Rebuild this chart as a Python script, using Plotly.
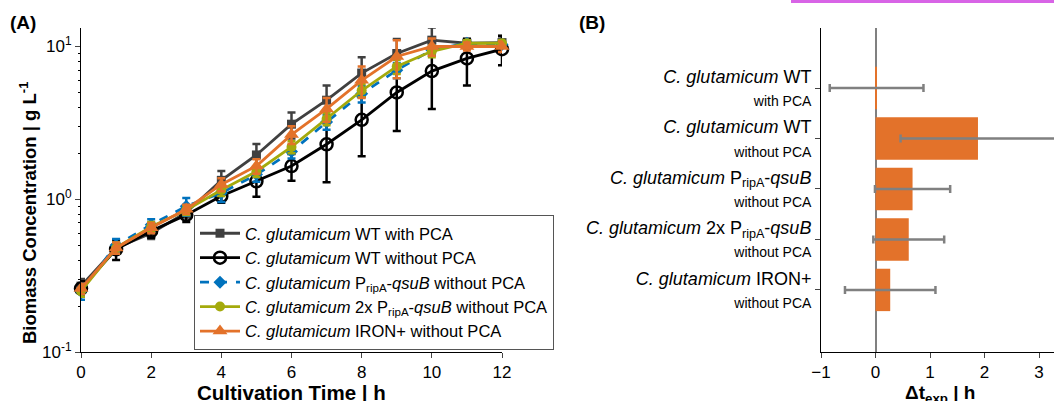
import plotly.graph_objects as go

# ---------------- data (panel A) ----------------
time_h = [0, 1, 2, 3, 4, 5, 6, 7, 8, 9, 10, 11, 12]

wt_pca = [0.27, 0.48, 0.60, 0.82, 1.33, 1.95, 3.1, 4.45, 6.7, 9.0, 11.0, 10.5, 10.6]
wt_pca_err = [0.03, 0.04, 0.05, 0.06, 0.2, 0.35, 0.6, 1.1, 1.8, 2.2, 2.3, 0.8, 1.2]

wt_nopca = [0.26, 0.47, 0.62, 0.79, 1.05, 1.31, 1.65, 2.29, 3.31, 5.0, 6.9, 8.35, 9.6]
wt_nopca_err = [0.03, 0.07, 0.06, 0.08, 0.1, 0.27, 0.33, 1.0, 1.4, 2.2, 3.0, 2.8, 2.05]

qsub = [0.25, 0.50, 0.68, 0.90, 1.10, 1.45, 2.05, 3.2, 4.9, 7.0, 9.5, 10.5, 10.3]
qsub_err = [0.03, 0.05, 0.06, 0.12, 0.14, 0.15, 0.2, 0.35, 0.6, 0.8, 0.6, 0.4, 0.4]

qsub2x = [0.25, 0.48, 0.66, 0.85, 1.15, 1.52, 2.2, 3.35, 5.15, 7.4, 9.3, 10.5, 10.5]
qsub2x_err = [0.02, 0.04, 0.05, 0.06, 0.1, 0.12, 0.2, 0.3, 0.5, 0.8, 0.8, 0.5, 0.5]

iron = [0.26, 0.48, 0.65, 0.86, 1.25, 1.65, 2.65, 3.9, 6.0, 8.6, 10.0, 10.0, 10.0]
iron_err = [0.02, 0.04, 0.05, 0.06, 0.12, 0.18, 0.35, 0.7, 1.4, 2.4, 1.3, 0.6, 0.8]

series_names = [
    "<i>C. glutamicum</i> WT with PCA",
    "<i>C. glutamicum</i> WT without PCA",
    "<i>C. glutamicum</i> P<sub>ripA</sub>-<i>qsuB</i> without PCA",
    "<i>C. glutamicum</i> 2x P<sub>ripA</sub>-<i>qsuB</i> without PCA",
    "<i>C. glutamicum</i> IRON+ without PCA",
]

# ---------------- data (panel B) ----------------
strain_labels = [
    "<i>C. glutamicum</i> WT<br><span style='font-size:14px'>with PCA</span>",
    "<i>C. glutamicum</i> WT<br><span style='font-size:14px'>without PCA</span>",
    "<i>C. glutamicum</i> P<sub>ripA</sub>-<i>qsuB</i><br><span style='font-size:14px'>without PCA</span>",
    "<i>C. glutamicum</i> 2x P<sub>ripA</sub>-<i>qsuB</i><br><span style='font-size:14px'>without PCA</span>",
    "<i>C. glutamicum</i> IRON+<br><span style='font-size:14px'>without PCA</span>",
]
delta_t = [0.02, 1.88, 0.68, 0.61, 0.27]
delta_t_err = [0.86, 1.42, 0.69, 0.65, 0.83]

FONT = "Arial, 'Liberation Sans', sans-serif"
W, H = 1054, 401

fig = go.Figure()

styles = [
    dict(color="#404040", dash="solid", symbol="square", size=9, open=False),
    dict(color="#000000", dash="solid", symbol="circle-open", size=12, open=True),
    dict(color="#0072BD", dash="dash", symbol="diamond", size=10, open=False),
    dict(color="#A4AA0C", dash="solid", symbol="circle", size=10, open=False),
    dict(color="#E3722A", dash="solid", symbol="triangle-up", size=13, open=False),
]
series = [(wt_pca, wt_pca_err), (wt_nopca, wt_nopca_err), (qsub, qsub_err),
          (qsub2x, qsub2x_err), (iron, iron_err)]

for (vals, errs), name, st in zip(series, series_names, styles):
    fig.add_trace(go.Scatter(
        x=time_h, y=vals, name=name, mode="lines+markers",
        line=dict(color=st["color"], width=2.8, dash=st["dash"]),
        marker=dict(symbol=st["symbol"], size=st["size"], color=st["color"],
                    line=dict(color=st["color"], width=2.5 if st["open"] else 0)),
        error_y=dict(type="data", array=errs, visible=True, color=st["color"],
                     thickness=2.5, width=4),
        cliponaxis=False, xaxis="x", yaxis="y",
    ))

fig.add_trace(go.Bar(
    x=delta_t, y=list(range(len(strain_labels))), orientation="h",
    marker=dict(color="#E3722A", line=dict(width=0)), width=0.84,
    error_x=dict(type="data", array=delta_t_err, visible=True, color="#808080",
                 thickness=2.5, width=4),
    showlegend=False, xaxis="x2", yaxis="y2",
))

x1d = [81 / W, 502 / W]
x2d = [821 / W, 1.0]
yd = [1 - 352 / H, 1 - 28 / H]

minor_vals = [v * s for s in (0.1, 1) for v in range(2, 10)]

fig.update_layout(
    width=W, height=H, margin=dict(l=0, r=0, t=0, b=0),
    paper_bgcolor="white", plot_bgcolor="white",
    font=dict(family=FONT, color="black", size=16),
    showlegend=True,
    legend=dict(x=194 / W, y=1 - 215 / H, xanchor="left", yanchor="top",
                bgcolor="white", bordercolor="#555555", borderwidth=1,
                font=dict(size=16.5, family=FONT), itemwidth=40,
                tracegroupgap=0),
    xaxis=dict(domain=x1d, range=[0, 12], tickvals=[0, 2, 4, 6, 8, 10, 12],
               ticks="outside", ticklen=5, showline=True, linecolor="black",
               linewidth=1, showgrid=False, zeroline=False, anchor="y",
               tickfont=dict(size=17), automargin=False),
    yaxis=dict(domain=yd, type="log", range=[-1, 1.121], tickvals=[0.1, 1, 10],
               ticktext=["10<sup>-1</sup>", "10<sup>0</sup>", "10<sup>1</sup>"],
               ticks="outside", ticklen=5, showline=True, linecolor="black",
               linewidth=1, showgrid=False, zeroline=False, anchor="x",
               tickfont=dict(size=17), automargin=False,
               minor=dict(tickmode="array", tickvals=minor_vals, ticks="outside",
                          ticklen=2, tickcolor="black", showgrid=False)),
    xaxis2=dict(domain=x2d, range=[-1, 3.275], tickvals=[-1, 0, 1, 2, 3],
                ticks="outside", ticklen=5, showline=True, linecolor="black",
                linewidth=1, showgrid=False, zeroline=True, zerolinecolor="#808080",
                zerolinewidth=2, anchor="y2", tickfont=dict(size=17), automargin=False),
    yaxis2=dict(domain=yd, range=[5.23, -1.19], tickmode="array",
                tickvals=list(range(len(strain_labels))), ticktext=strain_labels,
                ticks="outside", ticklen=5, showline=True, linecolor="black",
                linewidth=1, showgrid=False, zeroline=False, anchor="x2",
                tickfont=dict(size=18), automargin=False),
    bargap=0.16,
)

def note(x, y, text, size=19, angle=0, xanchor="center"):
    fig.add_annotation(x=x / W, y=1 - y / H, xref="paper", yref="paper",
                       xanchor=xanchor, yanchor="middle", text=text, showarrow=False,
                       textangle=angle, font=dict(size=size, family=FONT))

note(8, 22, "<b>(A)</b>", xanchor="left")
note(577, 22, "<b>(B)</b>", xanchor="left")
note(291, 392, "<b>Cultivation Time | h</b>", size=20.5)
note(28, 213, "<b>Biomass Concentration | g L<sup>-1</sup></b>", size=18.5, angle=-90)
note(940, 394, "<b>Δt<sub>exp</sub> | h</b>")

fig.add_shape(type="line", xref="paper", yref="paper", x0=791 / W, x1=1.0,
              y0=1 - 1.5 / H, y1=1 - 1.5 / H, line=dict(color="#D864E6", width=3))

fig.write_html("out.html", post_script="document.body.style.margin='0px';",
               config={"displayModeBar": False})
